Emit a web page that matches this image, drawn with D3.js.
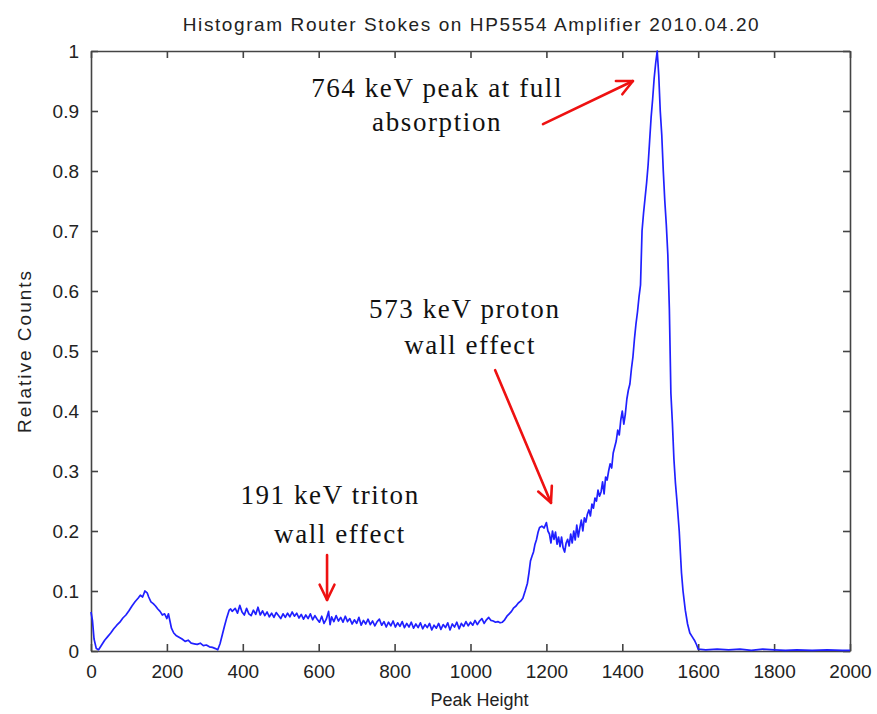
<!DOCTYPE html>
<html>
<head>
<meta charset="utf-8">
<script src="https://cdn.jsdelivr.net/npm/d3@7"></script>
<style>
  body { margin: 0; background: #fff; }
  svg { display: block; }
  .tick text { font-family: Arial, "Liberation Sans", sans-serif; font-size: 19px; fill: #222; }
</style>
</head>
<body>
<svg id="chart"></svg>
<script>
// histogram segments, [peak height, relative counts]
var lowHump = [[0,0.065],[4,0.05],[8,0.02],[14,0.004],[20,0.002],[28,0.01],[36,0.018],[44,0.024],[52,0.03],
  [60,0.037],[68,0.043],[76,0.048],[84,0.055],[92,0.06],[100,0.067],[108,0.075],[116,0.082],[124,0.088],
  [130,0.093],[136,0.09],[142,0.1],[148,0.097],[152,0.09],[158,0.082],[164,0.079],[170,0.075],[176,0.07],
  [182,0.066],[188,0.06],[194,0.062],[200,0.054],[204,0.062],[208,0.05],[212,0.038],[218,0.03],[224,0.026],
  [232,0.023],[240,0.02],[248,0.016],[256,0.018],[264,0.013],[272,0.012],[280,0.011],[288,0.013],[296,0.009],
  [304,0.01],[312,0.007],[320,0.006],[328,0.004],[334,0.002],[340,0.012],[346,0.027],[352,0.042],[358,0.056],
  [364,0.068],[368,0.07]];
var plateau = [[372,0.066],[380,0.071],[386,0.063],[392,0.076],[398,0.065],[404,0.06],[410,0.071],[416,0.062],
  [422,0.059],[428,0.068],[434,0.061],[440,0.073],[446,0.06],[452,0.067],[458,0.059],[464,0.065],[470,0.057],
  [476,0.063],[482,0.056],[488,0.064],[494,0.059],[500,0.054],[506,0.062],[512,0.056],[518,0.063],[524,0.057],
  [530,0.065],[536,0.058],[542,0.063],[548,0.055],[554,0.061],[560,0.053],[566,0.06],[572,0.054],[578,0.062],
  [584,0.052],[590,0.059],[596,0.053],[602,0.048],[608,0.058],[614,0.046],[620,0.053],[626,0.066],[630,0.044],
  [634,0.057],[640,0.049],[646,0.059],[652,0.05],[658,0.056],[664,0.048],[670,0.058],[676,0.049],[682,0.054],
  [688,0.045],[694,0.052],[700,0.046],[706,0.056],[712,0.043],[718,0.051],[724,0.045],[730,0.053],[736,0.044],
  [742,0.05],[748,0.042],[754,0.049],[760,0.053],[766,0.043],[772,0.049],[778,0.04],[784,0.048],[790,0.042],
  [796,0.05],[802,0.04],[808,0.047],[814,0.041],[820,0.049],[826,0.039],[832,0.046],[838,0.04],[844,0.048],
  [850,0.038],[856,0.045],[862,0.039],[868,0.047],[874,0.037],[880,0.044],[886,0.039],[892,0.046],[898,0.035],
  [904,0.043],[910,0.038],[916,0.046],[922,0.036],[928,0.044],[934,0.039],[940,0.047],[946,0.035],[952,0.045],
  [958,0.04],[964,0.048],[970,0.037],[976,0.046],[982,0.041],[988,0.049],[994,0.042],[1000,0.048],[1006,0.043],
  [1012,0.051],[1018,0.044],[1024,0.05],[1030,0.054],[1036,0.046],[1042,0.052],[1048,0.056],[1054,0.051],
  [1060,0.05],[1066,0.048],[1072,0.049],[1078,0.047],[1084,0.048]];
var protonShoulder = [[1090,0.052],[1096,0.058],[1102,0.062],[1108,0.066],[1114,0.072],[1120,0.075],[1126,0.08],
  [1132,0.083],[1138,0.088],[1144,0.1],[1150,0.113],[1154,0.13],[1158,0.15],[1162,0.158],[1166,0.165],
  [1170,0.178],[1174,0.186],[1178,0.198],[1182,0.206],[1188,0.208],[1194,0.205],[1200,0.214],[1204,0.2],
  [1208,0.195],[1212,0.18],[1216,0.2],[1220,0.186],[1224,0.198],[1228,0.178],[1232,0.19],[1236,0.174],
  [1240,0.19],[1244,0.172],[1248,0.165],[1252,0.18],[1256,0.186],[1260,0.175],[1264,0.195],[1268,0.18],
  [1272,0.2],[1276,0.185],[1280,0.21],[1284,0.19],[1288,0.205],[1292,0.218],[1296,0.2],[1300,0.222],
  [1304,0.215],[1308,0.228],[1312,0.235],[1316,0.225],[1320,0.245],[1324,0.238],[1328,0.255],[1332,0.25],
  [1336,0.268],[1340,0.258],[1344,0.265],[1348,0.282],[1352,0.262],[1356,0.29],[1360,0.285]];
var mainPeak = [[1364,0.3],[1368,0.312],[1372,0.305],[1376,0.33],[1380,0.34],[1384,0.35],[1388,0.368],
  [1392,0.36],[1396,0.385],[1400,0.4],[1404,0.378],[1408,0.395],[1412,0.42],[1416,0.435],[1420,0.445],
  [1424,0.47],[1428,0.49],[1432,0.52],[1436,0.545],[1440,0.565],[1444,0.59],[1448,0.61],[1452,0.7],
  [1456,0.73],[1460,0.755],[1464,0.78],[1468,0.81],[1472,0.85],[1476,0.89],[1480,0.92],[1484,0.955],
  [1488,0.98],[1492,1.0],[1496,0.96],[1500,0.9],[1504,0.86],[1508,0.8],[1512,0.75],[1516,0.71],[1520,0.66],
  [1524,0.57],[1528,0.43],[1532,0.38],[1536,0.32],[1540,0.28],[1544,0.25],[1550,0.2],[1556,0.13],[1560,0.1],
  [1566,0.068],[1572,0.045],[1578,0.03],[1584,0.024],[1590,0.018],[1596,0.01],[1600,0.003]];
var tail = [[1620,0.002],[1650,0.003],[1680,0.002],[1710,0.003],[1740,0.001],[1770,0.003],[1800,0.002],
  [1830,0.001],[1860,0.002],[1900,0.001],[1940,0.002],[1980,0.001],[2000,0.001]];

var xTicks = [0,200,400,600,800,1000,1200,1400,1600,1800,2000];
var yTicks = [0,0.1,0.2,0.3,0.4,0.5,0.6,0.7,0.8,0.9,1];

// annotations in data units: text lines and arrows
var labels = [
  {lines: [[912,0.923,"764 keV peak at full"],[912,0.867,"absorption"]]},
  {lines: [[985,0.555,"573 keV proton"],[999,0.495,"wall effect"]]},
  {lines: [[630,0.245,"191 keV triton"],[656,0.18,"wall effect"]]}
];
var arrows = [
  {from: [1191,0.878], to: [1428,0.95]},
  {from: [1065,0.468], to: [1212,0.247]},
  {from: [622,0.16], to: [622,0.085]}
];

var W = 877, H = 714;
var m = {t: 51, r: 27, b: 63, l: 91};
var w = W - m.l - m.r, h = H - m.t - m.b;

var svg = d3.select("#chart").attr("width", W).attr("height", H);
var g = svg.append("g").attr("transform", "translate(" + m.l + "," + m.t + ")");

var x = d3.scaleLinear().domain([0, 2000]).range([0, w]);
var y = d3.scaleLinear().domain([0, 1]).range([h, 0]);

var fmtY = function(d){ return d === 0 ? "0" : d === 1 ? "1" : d3.format(".1f")(d); };

// axes, ticks inward, mirrored on top/right
g.append("g").attr("class", "x axis")
  .attr("transform", "translate(0," + h + ")")
  .call(d3.axisBottom(x).tickValues(xTicks).tickSizeInner(-7).tickSizeOuter(0).tickPadding(14).tickFormat(d3.format("d")));
g.append("g").attr("class", "y axis")
  .call(d3.axisLeft(y).tickValues(yTicks).tickSizeInner(-7).tickSizeOuter(0).tickPadding(12).tickFormat(fmtY));
g.append("g").attr("class", "x2 axis")
  .call(d3.axisTop(x).tickValues(xTicks).tickSizeInner(-7).tickSizeOuter(0).tickFormat(""));
g.append("g").attr("class", "y2 axis")
  .attr("transform", "translate(" + w + ",0)")
  .call(d3.axisRight(y).tickValues(yTicks).tickSizeInner(-7).tickSizeOuter(0).tickFormat(""));

g.selectAll(".axis path").attr("stroke", "#444").attr("stroke-width", 1.6);
g.selectAll(".axis line").attr("stroke", "#444").attr("stroke-width", 1.6);
g.selectAll(".x.axis text").attr("dy", "0.71em");

var line = d3.line().x(function(d){ return x(d[0]); }).y(function(d){ return y(d[1]); });
var counts = lowHump.concat(plateau, protonShoulder, mainPeak, tail);

g.append("path")
  .datum(counts)
  .attr("fill", "none")
  .attr("stroke", "#2020ff")
  .attr("stroke-width", 1.7)
  .attr("stroke-linejoin", "round")
  .attr("d", line);

// red arrows
var arrowG = g.append("g").attr("stroke", "#ee1111").attr("stroke-width", 2.6).attr("fill", "none")
  .attr("stroke-linecap", "round").attr("stroke-linejoin", "round");
arrows.forEach(function(a){
  var x1 = x(a.from[0]), y1 = y(a.from[1]), x2 = x(a.to[0]), y2 = y(a.to[1]);
  var ang = Math.atan2(y2 - y1, x2 - x1), len = 17, spread = 0.45;
  arrowG.append("line").attr("x1", x1).attr("y1", y1).attr("x2", x2).attr("y2", y2);
  arrowG.append("path").attr("d", "M" + (x2 - len*Math.cos(ang - spread)) + "," + (y2 - len*Math.sin(ang - spread)) +
    "L" + x2 + "," + y2 +
    "L" + (x2 - len*Math.cos(ang + spread)) + "," + (y2 - len*Math.sin(ang + spread)));
});

// annotation text
labels.forEach(function(lb){
  lb.lines.forEach(function(l){
    g.append("text")
      .attr("x", x(l[0])).attr("y", y(l[1]))
      .attr("text-anchor", "middle")
      .attr("font-family", "'Liberation Serif', 'Times New Roman', serif")
      .attr("font-size", 27)
      .attr("letter-spacing", "1.6px")
      .attr("fill", "#111")
      .text(l[2]);
  });
});

// title and axis labels
svg.append("text")
  .attr("x", m.l + w/2 + 1).attr("y", 31)
  .attr("text-anchor", "middle")
  .attr("font-family", "Arial, 'Liberation Sans', sans-serif")
  .attr("font-size", 19).attr("letter-spacing", "1.6px").attr("fill", "#222")
  .text("Histogram Router Stokes on HP5554 Amplifier 2010.04.20");
svg.append("text")
  .attr("x", m.l + w/2 + 9).attr("y", 706)
  .attr("text-anchor", "middle")
  .attr("font-family", "Arial, 'Liberation Sans', sans-serif")
  .attr("font-size", 18).attr("fill", "#222")
  .text("Peak Height");
svg.append("text")
  .attr("transform", "translate(31," + (m.t + h/2) + ")rotate(-90)")
  .attr("text-anchor", "middle")
  .attr("font-family", "Arial, 'Liberation Sans', sans-serif")
  .attr("font-size", 19).attr("letter-spacing", "2px").attr("fill", "#222")
  .text("Relative Counts");
</script>
</body>
</html>
